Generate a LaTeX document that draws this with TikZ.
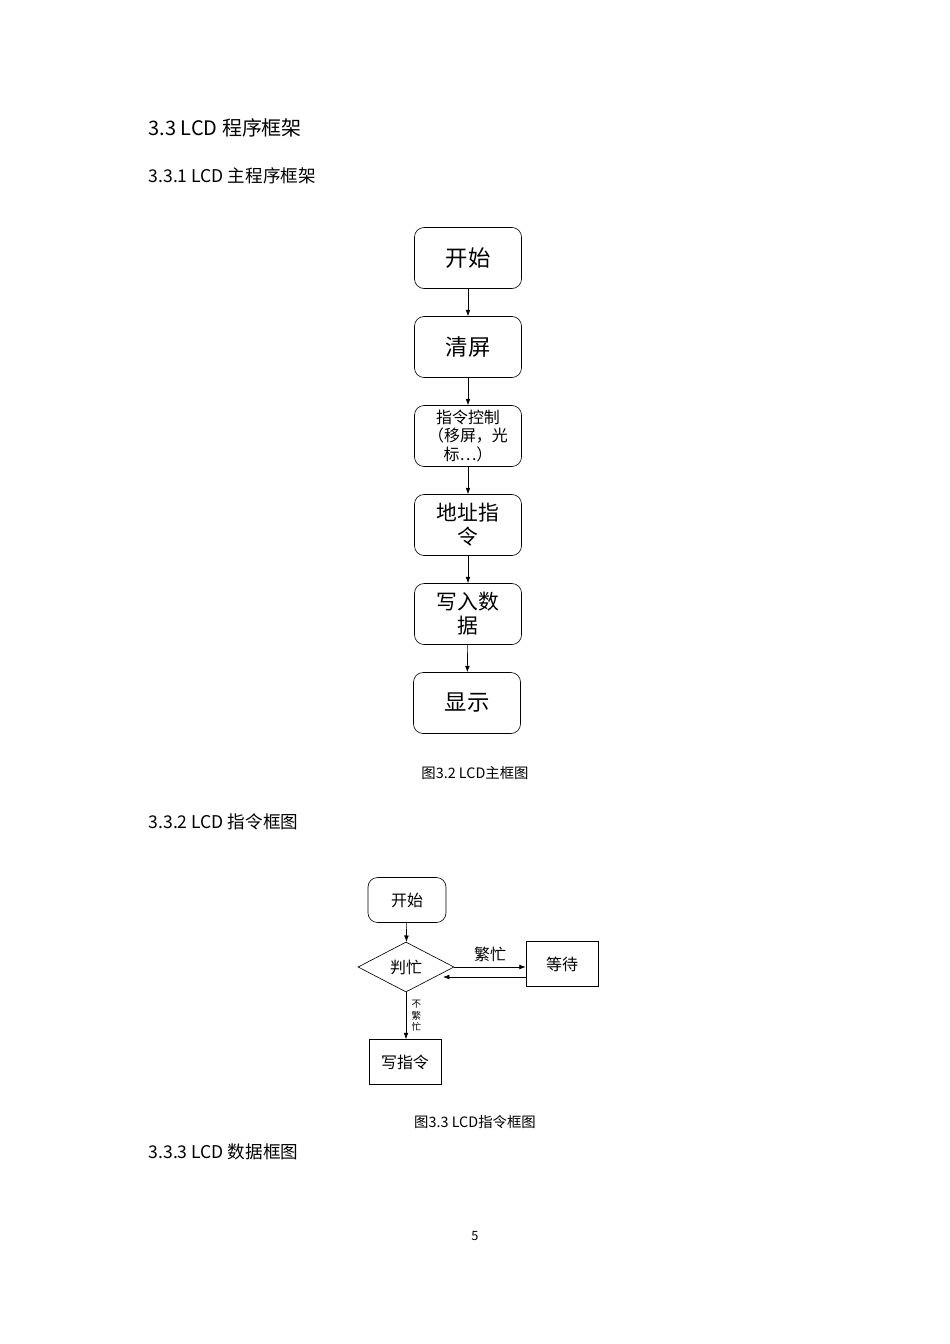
\documentclass[tikz,border=0pt]{standalone}
\usepackage{fontspec}
\setmainfont{Noto Sans CJK SC}
\usetikzlibrary{shapes.geometric,arrows.meta,positioning}
\tikzset{
  stage/.style={draw, rounded corners=6pt, minimum width=107*0.626pt, minimum height=61*0.626pt, align=center, inner sep=1pt},
  plain/.style={draw, minimum width=72*0.626pt, minimum height=45*0.626pt, align=center},
  flow/.style={-{Latex[length=4pt,width=3pt]}, thin}
}
\begin{document}
\begin{tikzpicture}[x=0.626pt,y=-0.626pt]
        \useasboundingbox (0,0) rectangle (950,1344);
        % headings
        \node[anchor=west, font=\fontsize{12.5}{14}\selectfont] (h1) at (143,128) {3.3 LCD 程序框架};
        \node[anchor=west, font=\fontsize{11}{13}\selectfont] (h2) at (143,176) {3.3.1 LCD 主程序框架};
        \node[anchor=west, font=\fontsize{11}{13}\selectfont] (h3) at (143,822) {3.3.2 LCD 指令框图};
        \node[anchor=west, font=\fontsize{11}{13}\selectfont] (h4) at (143,1152) {3.3.3 LCD 数据框图};

        % main flow
        \node[stage, font=\fontsize{14}{16}\selectfont] (start) at (468,258) {开始};
        \node[stage, font=\fontsize{14}{16}\selectfont] (clear) at (468,347) {清屏};
        \node[stage, font=\fontsize{10}{11.5}\selectfont] (cmd) at (468,436) {指令控制\\（移屏，光\\标…）};
        \node[stage, font=\fontsize{13}{15}\selectfont] (addr) at (468,525) {地址指\\令};
        \node[stage, font=\fontsize{13}{15}\selectfont] (write) at (468,614) {写入数\\据};
        \node[stage, font=\fontsize{14}{16}\selectfont] (show) at (467,703) {显示};
        \node[font=\fontsize{9}{11}\selectfont] (cap1) at (475,773) {图3.2 LCD主框图};

        \draw[flow] (start) -- (clear);
        \draw[flow] (clear) -- (cmd);
        \draw[flow] (cmd) -- (addr);
        \draw[flow] (addr) -- (write);
        \draw[flow] (write) -- (show);

        % busy check
        \node[stage, minimum width=78*0.626pt, minimum height=45*0.626pt, font=\fontsize{10}{12}\selectfont] (begin) at (407,900) {开始};
        \node[diamond, draw, aspect=1.9, minimum width=96*0.626pt, minimum height=50*0.626pt, inner sep=0pt, font=\fontsize{10}{12}\selectfont] (busy) at (406,967) {判忙};
        \node[plain, font=\fontsize{10}{12}\selectfont] (wait) at (562,964) {等待};
        \node[plain, font=\fontsize{10}{12}\selectfont] (wcmd) at (405,1062) {写指令};
        \node[font=\fontsize{9}{11}\selectfont] (cap2) at (475,1122) {图3.3 LCD指令框图};

        \draw[flow] (busy.east) -- node[above, font=\fontsize{10}{12}\selectfont] {繁忙} (wait.west |- busy.east);
        \draw[flow] (wait.west |- 0,977) -- (443,977);
        \draw[flow] (begin) -- (busy);
        \draw[flow] (busy.south) -- node[right, align=center, font=\fontsize{6}{7}\selectfont] {不\\繁\\忙} (wcmd.north -| busy.south);

        \node[font=\fontsize{8}{10}\selectfont] (page) at (475,1236) {5};
\end{tikzpicture}
\end{document}
